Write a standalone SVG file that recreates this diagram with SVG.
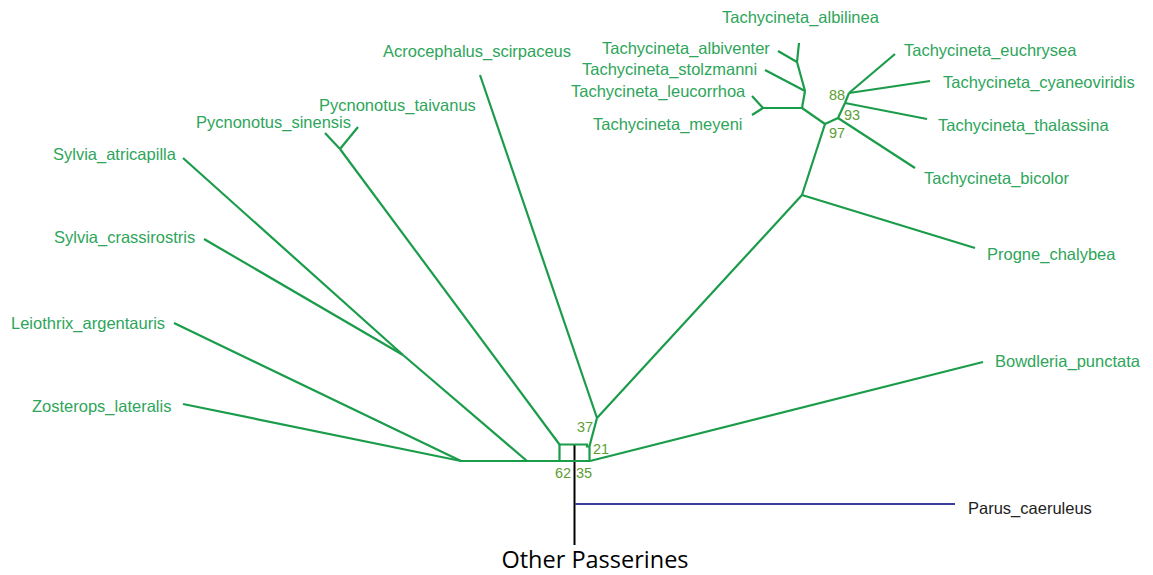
<svg xmlns="http://www.w3.org/2000/svg" width="1153" height="575" viewBox="0 0 1153 575">
  <style>
    .br { fill: none; stroke: #1a9c4a; stroke-width: 2.2; stroke-linejoin: miter; stroke-linecap: butt; }
    .tip { font-family: "Liberation Sans", Arial, sans-serif; font-size: 16.5px; fill: #2ea55a; }
    .bs { font-family: "Liberation Sans", Arial, sans-serif; font-size: 14.5px; fill: #5d9d34; }
    .out { fill: none; stroke: #3b3f9b; stroke-width: 2; }
    .root { fill: none; stroke: #000; stroke-width: 2; }
    .lbl { font-family: "Open Sans", "Noto Sans", sans-serif; font-size: 23.5px; fill: #000; }
  </style>
  <rect width="1153" height="575" fill="#fff"/>

  <!-- branches -->
  <g id="connectors">
    <!-- root stem and outgroup -->
    <line class="root" x1="574.5" y1="444" x2="574.5" y2="545"/>
    <line class="out" x1="575" y1="504" x2="955" y2="504"/>

    <!-- basal box and backbone -->
    <line class="br" x1="460" y1="461" x2="590" y2="461"/>
    <polyline class="br" points="559.5,461 559.5,444.5 587,444.5 587,446.5 589.5,446.5 589.5,461"/>

    <!-- Zosterops / Leiothrix -->
    <line class="br" x1="183" y1="404" x2="461" y2="461"/>
    <line class="br" x1="174" y1="323" x2="461" y2="461"/>

    <!-- Sylvia pair -->
    <line class="br" x1="183" y1="158" x2="403" y2="355"/>
    <line class="br" x1="204" y1="239" x2="403" y2="355"/>
    <line class="br" x1="403" y1="355" x2="527" y2="461"/>

    <!-- Pycnonotus pair -->
    <line class="br" x1="325" y1="133" x2="340" y2="149"/>
    <line class="br" x1="358" y1="127" x2="340" y2="149"/>
    <line class="br" x1="340" y1="149" x2="559.5" y2="444.5"/>

    <!-- Bowdleria -->
    <line class="br" x1="590" y1="461" x2="983" y2="362"/>

    <!-- node 37 -->
    <line class="br" x1="589.5" y1="446" x2="597" y2="418"/>
    <line class="br" x1="597" y1="418" x2="480" y2="75"/>
    <line class="br" x1="597" y1="418" x2="802" y2="195"/>

    <!-- swallow clade -->
    <line class="br" x1="802" y1="195" x2="975" y2="248"/>
    <line class="br" x1="802" y1="195" x2="825" y2="124"/>
    <line class="br" x1="825" y1="124" x2="802" y2="108"/>
    <line class="br" x1="802" y1="108" x2="763" y2="108"/>
    <line class="br" x1="763" y1="108" x2="752" y2="96"/>
    <line class="br" x1="763" y1="108" x2="752" y2="115"/>
    <line class="br" x1="802" y1="108" x2="805" y2="91"/>
    <line class="br" x1="805" y1="91" x2="765" y2="70"/>
    <line class="br" x1="805" y1="91" x2="797" y2="62"/>
    <line class="br" x1="797" y1="62" x2="799" y2="43"/>
    <line class="br" x1="797" y1="62" x2="778" y2="51"/>
    <line class="br" x1="825" y1="124" x2="838" y2="118"/>
    <line class="br" x1="838" y1="118" x2="915" y2="168"/>
    <line class="br" x1="838" y1="118" x2="845" y2="103"/>
    <line class="br" x1="845" y1="103" x2="927" y2="119"/>
    <line class="br" x1="845" y1="103" x2="849" y2="93"/>
    <line class="br" x1="849" y1="93" x2="930" y2="81"/>
    <line class="br" x1="849" y1="93" x2="895" y2="54"/>
  </g>

  <!-- support values -->
  <g id="support">
    <text class="bs" x="577" y="432">37</text>
    <text class="bs" x="593" y="454">21</text>
    <text class="bs" x="555" y="478">62</text>
    <text class="bs" x="576" y="478">35</text>
    <text class="bs" x="829" y="100">88</text>
    <text class="bs" x="844" y="120">93</text>
    <text class="bs" x="829" y="138">97</text>
  </g>

  <!-- taxa -->
  <g id="Tachycineta_albilinea"><text class="tip" x="722" y="23">Tachycineta_albilinea</text></g>
  <g id="Tachycineta_albiventer"><text class="tip" x="602" y="54">Tachycineta_albiventer</text></g>
  <g id="Tachycineta_stolzmanni"><text class="tip" x="582" y="75">Tachycineta_stolzmanni</text></g>
  <g id="Tachycineta_leucorrhoa"><text class="tip" x="571" y="97">Tachycineta_leucorrhoa</text></g>
  <g id="Tachycineta_meyeni"><text class="tip" x="593" y="130">Tachycineta_meyeni</text></g>
  <g id="Tachycineta_euchrysea"><text class="tip" x="904" y="56">Tachycineta_euchrysea</text></g>
  <g id="Tachycineta_cyaneoviridis"><text class="tip" x="943" y="88">Tachycineta_cyaneoviridis</text></g>
  <g id="Tachycineta_thalassina"><text class="tip" x="938" y="131">Tachycineta_thalassina</text></g>
  <g id="Tachycineta_bicolor"><text class="tip" x="924" y="184">Tachycineta_bicolor</text></g>
  <g id="Progne_chalybea"><text class="tip" x="987" y="260">Progne_chalybea</text></g>
  <g id="Bowdleria_punctata"><text class="tip" x="995" y="367">Bowdleria_punctata</text></g>
  <g id="Parus_caeruleus"><text class="tip" x="968" y="514" style="fill:#222">Parus_caeruleus</text></g>
  <g id="Acrocephalus_scirpaceus"><text class="tip" x="383" y="57">Acrocephalus_scirpaceus</text></g>
  <g id="Pycnonotus_taivanus"><text class="tip" x="319" y="111">Pycnonotus_taivanus</text></g>
  <g id="Pycnonotus_sinensis"><text class="tip" x="196" y="128">Pycnonotus_sinensis</text></g>
  <g id="Sylvia_atricapilla"><text class="tip" x="53" y="160">Sylvia_atricapilla</text></g>
  <g id="Sylvia_crassirostris"><text class="tip" x="54" y="243">Sylvia_crassirostris</text></g>
  <g id="Leiothrix_argentauris"><text class="tip" x="11" y="329">Leiothrix_argentauris</text></g>
  <g id="Zosterops_lateralis"><text class="tip" x="32" y="412">Zosterops_lateralis</text></g>
  <g id="Other_Passerines"><text class="lbl" x="595" y="568" text-anchor="middle">Other Passerines</text></g>
</svg>
